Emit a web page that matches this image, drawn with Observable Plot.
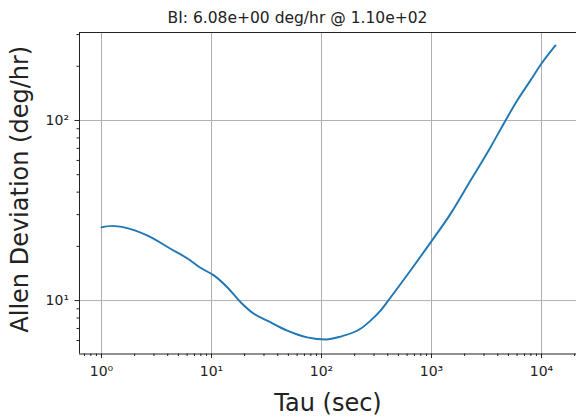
<!DOCTYPE html>
<html>
<head>
<meta charset="utf-8">
<script src="https://cdn.jsdelivr.net/npm/d3@7"></script>
<script src="https://cdn.jsdelivr.net/npm/@observablehq/plot@0.6"></script>
<style>
  html, body { margin: 0; padding: 0; background: #fff; }
  #chart svg { display: block; }
</style>
</head>
<body>
<div id="chart"></div>
<script>
// Data
const tau = [1, 1.25, 1.6, 2.6, 4.24, 6.44, 7.94, 10.5, 13.9, 18.4, 24.3, 32.1, 48.8, 74.1, 110, 149, 226, 279, 344, 424, 644, 986, 1489, 2263, 3440, 4710, 6010, 7943, 10000, 13400];
const adev = [25.5, 26.0, 25.5, 23.0, 19.4, 16.7, 15.2, 13.8, 11.86, 9.79, 8.44, 7.74, 6.81, 6.25, 6.08, 6.31, 6.97, 7.74, 8.79, 10.4, 14.7, 21.1, 30.3, 46.4, 71.1, 100, 129, 167, 207, 261];

const xMajorTicks = [1, 10, 100, 1000, 10000];
const xTickLabels = ["10\u2070", "10\u00b9", "10\u00b2", "10\u00b3", "10\u2074"];
const yMajorTicks = [10, 100];
const yTickLabels = ["10\u00b9", "10\u00b2"];

const titleText = "BI: 6.08e+00 deg/hr @ 1.10e+02";
const xLabel = "Tau (sec)";
const yLabel = "Allen Deviation (deg/hr)";

const xDomain = [0.631, 20800];
const yDomain = [5.05, 308];

const data = tau.map((t, i) => ({tau: t, adev: adev[i]}));

function minorTicks(domain) {
  const out = [];
  for (let e = -1; e <= 5; e++) {
    for (let m = 2; m <= 9; m++) {
      const v = m * Math.pow(10, e);
      if (v >= domain[0] && v <= domain[1]) out.push(v);
    }
  }
  return out;
}

const chart = Plot.plot({
  width: 576,
  height: 419,
  marginLeft: 79,
  marginRight: 0,
  marginTop: 32,
  marginBottom: 65.5,
  style: {fontFamily: "DejaVu Sans", background: "#fff", color: "#000"},
  x: {type: "log", domain: xDomain, axis: null},
  y: {type: "log", domain: yDomain, axis: null},
  marks: [
    Plot.gridX(xMajorTicks, {stroke: "#b0b0b0", strokeOpacity: 1, strokeWidth: 1}),
    Plot.gridY(yMajorTicks, {stroke: "#b0b0b0", strokeOpacity: 1, strokeWidth: 1}),
    Plot.line(data, {x: "tau", y: "adev", stroke: "#1f77b4", strokeWidth: 1.9, curve: "monotone-x"}),
    // frame: left, bottom, top
    Plot.ruleX([xDomain[0]], {stroke: "#222", strokeWidth: 1}),
    Plot.ruleY([yDomain[0], yDomain[1]], {stroke: "#222", strokeWidth: 1}),
    // x axis
    Plot.axisX(xMajorTicks, {anchor: "bottom", label: null, tickSize: 4.5, tickPadding: 8, fontSize: 14,
      tickFormat: (d) => xTickLabels[xMajorTicks.indexOf(d)], stroke: "#222", fill: "#222"}),
    Plot.axisX(minorTicks(xDomain), {anchor: "bottom", label: null, tickSize: 2.5, text: null, stroke: "#222"}),
    // y axis
    Plot.axisY(yMajorTicks, {anchor: "left", label: null, tickSize: 4.5, tickPadding: 6, fontSize: 14,
      tickFormat: (d) => yTickLabels[yMajorTicks.indexOf(d)], stroke: "#222", fill: "#222"}),
    Plot.axisY(minorTicks(yDomain), {anchor: "left", label: null, tickSize: 2.5, text: null, stroke: "#222"}),
    // title
    Plot.text([titleText], {frameAnchor: "top", dx: -30.5, dy: -9.5, lineAnchor: "bottom",
      fontSize: 15.5, fill: "#222", textAnchor: "middle"}),
    // x label
    Plot.text([xLabel], {frameAnchor: "bottom", dx: 0, dy: 56.5, lineAnchor: "bottom",
      fontSize: 24, fill: "#222", textAnchor: "middle"}),
    // y label
    Plot.text([yLabel], {frameAnchor: "left", dx: -52, dy: -4, rotate: -90, lineAnchor: "bottom",
      fontSize: 24, fill: "#222", textAnchor: "middle"})
  ]
});

document.getElementById("chart").appendChild(chart);
</script>
</body>
</html>
